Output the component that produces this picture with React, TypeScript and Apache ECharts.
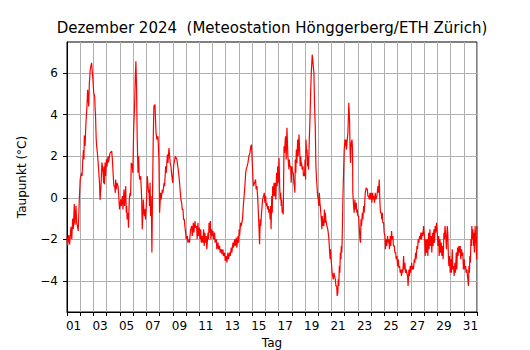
import React, { useEffect, useRef } from "react";
import * as echarts from "echarts";

const titleText = "Dezember 2024  (Meteostation Hönggerberg/ETH Zürich)";
const xAxisName = "Tag";
const yAxisName = "Taupunkt (°C)";
const dayLabels = ["01", "03", "05", "07", "09", "11", "13", "15", "17", "19", "21", "23", "25", "27", "29", "31"];
const yTickValues = [-4, -2, 0, 2, 4, 6];

// [days since 1 Dec 00:00, dew point °C]
const week1: [number, number][] = [[0,-1.9],[0.05,-2.3],[0.13,-1.8],[0.2,-2.25],[0.3,-1.4],[0.36,-2.0],[0.43,-1.0],[0.48,-1.5],[0.55,-0.3],[0.6,-1.3],[0.68,-0.4],[0.73,-1.2],[0.8,-1.4],[0.85,-1.6],[0.93,-0.1],[1.0,0.9],[1.1,1.2],[1.14,1.05],[1.18,1.7],[1.24,2.3],[1.28,1.85],[1.31,3.0],[1.37,2.5],[1.4,3.1],[1.44,3.7],[1.51,4.4],[1.56,5.2],[1.64,4.4],[1.69,5.5],[1.76,6.2],[1.86,6.5],[1.92,6.0],[1.96,5.7],[2.02,5.05],[2.09,4.9],[2.12,4.4],[2.16,3.9],[2.18,3.4],[2.21,2.8],[2.24,2.5],[2.32,2.0],[2.39,1.36],[2.46,0.7],[2.5,-0.1],[2.57,0.56],[2.64,1.7],[2.73,1.2],[2.77,0.7],[2.8,1.5],[2.84,0.65],[2.88,1.7],[2.92,1.05],[2.98,1.85],[3.02,1.5],[3.1,2.0],[3.14,1.7],[3.25,2.15],[3.38,2.25],[3.43,1.85],[3.47,1.36],[3.51,0.9],[3.55,0.56],[3.61,0.56],[3.65,0.24],[3.68,0.88],[3.72,0.4],[3.78,0.72],[3.86,0.56],[3.9,0.24],[3.93,0.24],[3.97,-0.56],[4.06,-0.08],[4.1,-0.4],[4.19,0.08],[4.23,-0.56],[4.31,0.4],[4.35,-0.4],[4.44,0.56],[4.48,-0.72],[4.51,-0.4],[4.55,-1.04],[4.61,-0.72],[4.65,-1.44],[4.71,-0.08],[4.77,0.24],[4.81,0.08],[4.86,1.68],[4.94,1.52],[4.98,1.2],[5.04,3.29],[5.11,4.41],[5.16,5.69],[5.21,6.57],[5.26,5.21],[5.31,2.8],[5.37,1.2],[5.42,2.0],[5.45,1.2],[5.49,0.88],[5.57,1.04],[5.64,0.08],[5.69,-1.52],[5.77,-0.08],[5.82,-0.72],[5.86,-0.88],[5.9,-0.56],[5.94,-1.04],[6.02,-0.08],[6.07,1.04],[6.13,0.56],[6.17,0.24],[6.2,0.4],[6.24,-0.4],[6.28,0.72],[6.32,-0.88],[6.35,0.08],[6.39,-1.04],[6.42,-2.64],[6.47,0.4],[6.52,2.8],[6.57,4.41],[6.65,4.49],[6.73,3.13],[6.8,2.8],[6.88,2.96],[6.95,1.84]];

const week2: [number, number][] = [[7.0,-0.72],[7.08,0.24],[7.12,-0.08],[7.21,0.4],[7.25,0.24],[7.34,0.72],[7.38,0.56],[7.46,1.52],[7.5,1.2],[7.59,2.08],[7.63,1.68],[7.71,2.4],[7.76,2.0],[7.8,1.68],[7.86,1.52],[7.9,1.2],[7.96,0.88],[8.0,0.72],[8.06,1.52],[8.19,2.0],[8.31,1.84],[8.41,1.36],[8.49,0.88],[8.57,0.24],[8.61,-0.08],[8.67,-0.24],[8.71,-0.56],[8.77,-0.56],[8.81,-1.04],[8.87,-1.04],[8.91,-1.36],[8.97,-1.68],[9.01,-2.0],[9.1,-1.84],[9.14,-2.16],[9.22,-2.0],[9.26,-2.16],[9.35,-1.52],[9.43,-1.36],[9.47,-1.84],[9.55,-1.2],[9.59,-1.68],[9.68,-1.12],[9.72,-1.44],[9.8,-1.36],[9.84,-2.0],[9.9,-1.2],[9.94,-1.84],[10.01,-1.44],[10.05,-2.0],[10.11,-1.52],[10.15,-2.16],[10.23,-1.84],[10.27,-2.16],[10.33,-1.52],[10.37,-2.32],[10.43,-1.68],[10.47,-2.16],[10.53,-1.84],[10.57,-2.48],[10.66,-1.68],[10.7,-2.0],[10.74,-1.2],[10.78,-1.68],[10.84,-1.12],[10.88,-2.0],[10.94,-1.52],[10.98,-1.84],[11.04,-1.6],[11.08,-2.0],[11.16,-1.68],[11.2,-2.16],[11.29,-2.0],[11.33,-2.48],[11.42,-2.16],[11.46,-2.48],[11.54,-2.32],[11.58,-2.64],[11.67,-2.48],[11.71,-2.72],[11.79,-2.48],[11.83,-2.8],[11.92,-2.64],[11.96,-3.04],[12.05,-2.8],[12.09,-3.12],[12.17,-2.64],[12.21,-2.96],[12.3,-2.64],[12.34,-2.8],[12.42,-2.4],[12.46,-2.64],[12.55,-2.16],[12.59,-2.4],[12.68,-2.0],[12.72,-2.32],[12.8,-1.92],[12.84,-2.4],[12.93,-1.84],[12.97,-2.16],[13.02,-1.52],[13.05,-1.84],[13.13,-1.2],[13.17,-1.36],[13.27,-1.04],[13.33,-0.4],[13.37,-0.08],[13.45,0.56],[13.51,1.2],[13.55,1.36],[13.58,1.36],[13.62,1.52],[13.68,1.68],[13.75,2.0],[13.83,2.16],[13.9,2.48],[13.95,2.56]];

const week3: [number, number][] = [[14.03,1.36],[14.06,0.88],[14.1,0.56],[14.18,0.72],[14.26,0.88],[14.3,0.4],[14.36,0.56],[14.41,0.08],[14.45,-0.4],[14.51,-1.36],[14.56,-2.24],[14.61,-1.04],[14.65,-1.36],[14.71,-0.72],[14.79,-0.08],[14.86,0.08],[14.92,0.24],[14.96,-0.24],[15.02,0.08],[15.06,-0.4],[15.12,-0.24],[15.16,-0.56],[15.22,-0.4],[15.26,-0.72],[15.32,-0.56],[15.36,-1.04],[15.39,-0.4],[15.43,-1.52],[15.48,0.08],[15.52,-0.72],[15.55,0.56],[15.59,0.08],[15.65,0.72],[15.69,0.08],[15.75,0.72],[15.79,-0.08],[15.85,1.2],[15.89,0.56],[15.93,1.52],[15.97,0.72],[16.03,1.92],[16.08,0.56],[16.12,-0.08],[16.16,0.24],[16.2,-0.4],[16.23,-0.08],[16.27,-0.72],[16.31,-0.56],[16.35,-0.8],[16.38,0.88],[16.41,2.48],[16.45,2.16],[16.5,2.8],[16.53,2.96],[16.57,1.84],[16.63,3.37],[16.66,2.8],[16.7,2.0],[16.74,2.0],[16.78,1.36],[16.81,1.84],[16.85,1.52],[16.91,1.52],[16.95,0.72],[17.01,1.52],[17.05,1.2],[17.11,1.2],[17.15,0.72],[17.19,0.56],[17.23,0.24],[17.26,1.84],[17.3,1.2],[17.34,2.32],[17.38,1.68],[17.44,2.8],[17.48,2.0],[17.54,3.04],[17.59,2.32],[17.63,1.52],[17.67,2.0],[17.71,1.52],[17.74,1.68],[17.78,1.36],[17.84,1.52],[17.88,1.04],[17.92,1.2],[17.96,1.04],[18.0,1.84],[18.04,0.88],[18.07,2.8],[18.11,2.16],[18.15,2.32],[18.19,1.52],[18.22,2.0],[18.26,1.36],[18.32,2.8],[18.37,3.77],[18.42,5.05],[18.47,6.0],[18.54,6.89],[18.57,6.73],[18.61,6.41],[18.67,6.0],[18.72,4.41],[18.77,3.45],[18.82,1.52],[18.87,0.88],[18.95,0.08],[19.0,-0.08],[19.04,-0.4],[19.08,0.24],[19.12,-0.24],[19.15,-0.4],[19.19,-0.72],[19.23,-1.04],[19.27,-1.52],[19.3,-0.88],[19.34,-1.36],[19.38,-1.04],[19.42,-1.36],[19.46,-0.56],[19.5,-1.2],[19.53,-0.72],[19.57,-1.04],[19.61,-1.04],[19.65,-1.36],[19.68,-1.36],[19.72,-1.52],[19.78,-1.84],[19.82,-2.16],[19.86,-2.64],[19.9,-2.96],[19.93,-2.48],[19.97,-2.96],[20.01,-3.29],[20.05,-3.61],[20.09,-3.61],[20.13,-3.93],[20.19,-3.61],[20.23,-3.77],[20.29,-3.93],[20.33,-4.25],[20.39,-4.25],[20.43,-4.73],[20.48,-4.57],[20.51,-3.93],[20.55,-4.25],[20.59,-3.29],[20.63,-3.61],[20.67,-2.64],[20.71,-2.96],[20.74,-2.32],[20.78,-2.64],[20.81,-1.84],[20.86,-0.08],[20.91,1.2],[20.96,2.32]];

const week4: [number, number][] = [[21.02,2.8],[21.06,2.48],[21.09,2.8],[21.13,2.32],[21.19,2.8],[21.24,3.13],[21.31,4.57],[21.37,3.61],[21.4,2.32],[21.44,1.68],[21.49,2.64],[21.55,2.8],[21.59,2.32],[21.61,0.24],[21.64,-0.08],[21.67,-0.4],[21.71,-0.72],[21.77,-0.08],[21.81,-0.56],[21.87,-0.24],[21.91,-0.72],[21.95,-0.56],[21.99,-0.88],[22.05,-0.88],[22.09,-1.36],[22.15,-2.0],[22.19,-2.16],[22.23,-1.04],[22.27,-1.36],[22.33,-0.72],[22.37,-1.04],[22.43,-0.4],[22.47,-0.72],[22.55,0.24],[22.62,0.48],[22.71,0.4],[22.75,0.08],[22.81,0.08],[22.85,-0.08],[22.91,0.24],[22.95,-0.08],[23.01,0.24],[23.05,-0.24],[23.11,0.24],[23.15,-0.08],[23.21,0.08],[23.25,-0.24],[23.31,0.24],[23.35,-0.08],[23.43,0.08],[23.51,0.56],[23.55,0.24],[23.61,0.88],[23.66,-0.24],[23.7,-0.72],[23.76,-0.72],[23.8,-1.04],[23.84,-0.72],[23.88,-1.2],[23.94,-1.2],[23.98,-1.68],[24.04,-1.84],[24.08,-2.48],[24.14,-2.0],[24.18,-2.32],[24.24,-1.84],[24.28,-2.16],[24.34,-2.0],[24.38,-2.48],[24.44,-1.84],[24.48,-2.32],[24.54,-1.6],[24.58,-2.0],[24.64,-1.84],[24.68,-2.32],[24.75,-2.32],[24.79,-2.64],[24.85,-2.64],[24.89,-2.96],[24.95,-2.8],[24.99,-3.29],[25.05,-2.96],[25.09,-3.37],[25.15,-3.29],[25.19,-3.61],[25.25,-3.45],[25.29,-3.77],[25.35,-3.45],[25.39,-3.61],[25.45,-2.8],[25.49,-3.45],[25.55,-3.13],[25.59,-3.61],[25.65,-3.45],[25.69,-3.61],[25.75,-3.77],[25.79,-4.25],[25.85,-3.45],[25.89,-3.77],[25.95,-3.29],[25.99,-3.61],[26.06,-3.13],[26.1,-3.45],[26.15,-3.29],[26.19,-3.45],[26.26,-2.96],[26.3,-3.13],[26.36,-2.64],[26.4,-2.96],[26.46,-2.32],[26.5,-2.48],[26.56,-2.0],[26.6,-2.16],[26.66,-1.84],[26.7,-2.0],[26.76,-1.68],[26.8,-2.0],[26.86,-1.68],[26.9,-1.84],[26.96,-1.36],[27.0,-1.68],[27.04,-2.0],[27.08,-2.8],[27.14,-2.0],[27.18,-2.64],[27.24,-2.0],[27.28,-2.8],[27.34,-1.68],[27.38,-2.48],[27.44,-1.52],[27.48,-2.32],[27.54,-1.84],[27.58,-2.64],[27.64,-1.68],[27.68,-2.32],[27.74,-1.52],[27.78,-2.16],[27.84,-1.36],[27.88,-1.68],[27.94,-1.2],[28.0,-1.68],[28.04,-2.32],[28.1,-1.84],[28.14,-2.8],[28.2,-2.0],[28.24,-2.64],[28.3,-2.16],[28.34,-2.8],[28.4,-2.32],[28.44,-2.96],[28.5,-1.68],[28.54,-2.0],[28.58,-1.36],[28.62,-1.68],[28.65,-2.0],[28.69,-2.48],[28.75,-1.36],[28.79,-1.68],[28.83,-2.64],[28.87,-3.29],[28.93,-2.8],[28.97,-3.61],[29.03,-2.96],[29.07,-3.61],[29.13,-2.48],[29.17,-3.45],[29.23,-3.29],[29.27,-3.77],[29.33,-3.13],[29.37,-3.61],[29.43,-2.64],[29.47,-3.45],[29.53,-2.4],[29.57,-2.8],[29.63,-2.32],[29.67,-2.64],[29.73,-2.32],[29.77,-2.96],[29.83,-2.48],[29.87,-2.8],[29.93,-2.64],[29.97,-3.45],[30.04,-2.96],[30.08,-3.45],[30.14,-3.29],[30.18,-3.61],[30.24,-3.45],[30.28,-3.77],[30.31,-3.93],[30.35,-4.25],[30.39,-3.29],[30.43,-3.61],[30.46,-2.8],[30.5,-3.13],[30.54,-2.0],[30.58,-2.32],[30.61,-1.36],[30.65,-2.0],[30.69,-1.52],[30.73,-2.32],[30.76,-1.68],[30.8,-2.64],[30.86,-1.36],[30.9,-2.0],[30.94,-2.32],[30.97,-2.96],[31.0,-1.36]];

const FONT = "DejaVu Sans";

export default function App() {
  const ref = useRef<HTMLDivElement>(null);
  useEffect(() => {
    document.body.style.margin = "0";
    if (!ref.current) return;
    const chart = echarts.init(ref.current, null, { renderer: "svg" });
    const labelPositions = dayLabels.map((_, i) => i * 2 + 0.5);
    const fmtNum = (v: number) => (v < 0 ? "\u2212" + Math.abs(v) : String(v));
    chart.setOption({
      animation: false,
      textStyle: { fontFamily: FONT },
      title: {
        text: titleText,
        left: 267,
        top: 15,
        textAlign: "center",
        textStyle: { fontSize: 15, fontWeight: "normal", color: "#000", fontFamily: FONT },
      },
      grid: {
        left: 67,
        top: 42,
        width: 410,
        height: 270,
        show: true,
        borderColor: "#000",
        borderWidth: 1,
        backgroundColor: "transparent",
        containLabel: false,
        outerBoundsMode: "none",
      },
      xAxis: {
        type: "value",
        min: 0,
        max: 31,
        interval: 1,
        name: xAxisName,
        nameLocation: "middle",
        nameGap: 25,
        nameTextStyle: { fontSize: 12, color: "#000", fontFamily: FONT },
        axisLine: { show: true, onZero: false, lineStyle: { color: "#000", width: 1 } },
        axisTick: { show: true, length: 4, lineStyle: { color: "#000", width: 1 } },
        axisLabel: {
          customValues: labelPositions,
          formatter: (v: number) => dayLabels[Math.round((v - 0.5) / 2)] ?? "",
          fontSize: 12,
          color: "#000",
          margin: 8,
          fontFamily: FONT,
        },
        splitLine: { show: true, lineStyle: { color: "#b0b0b0", width: 1 } },
      },
      yAxis: {
        type: "value",
        min: -5.5,
        max: 7.5,
        name: yAxisName,
        nameLocation: "middle",
        nameGap: 39,
        nameTextStyle: { fontSize: 12, color: "#000", fontFamily: FONT },
        axisLine: { show: true, onZero: false, lineStyle: { color: "#000", width: 1 } },
        axisTick: { show: true, length: 4, customValues: yTickValues, lineStyle: { color: "#000", width: 1 } },
        axisLabel: {
          customValues: yTickValues,
          formatter: fmtNum,
          fontSize: 12,
          color: "#000",
          margin: 9,
          fontFamily: FONT,
        },
        splitLine: { show: true, lineStyle: { color: "#b0b0b0", width: 1 } },
      },
      series: [
        {
          type: "line",
          data: [...week1, ...week2, ...week3, ...week4],
          showSymbol: false,
          symbol: "none",
          clip: true,
          lineStyle: { color: "#ff0000", width: 1.2 },
        },
      ],
    });
    return () => chart.dispose();
  }, []);
  return <div ref={ref} style={{ width: 530, height: 350 }} />;
}
